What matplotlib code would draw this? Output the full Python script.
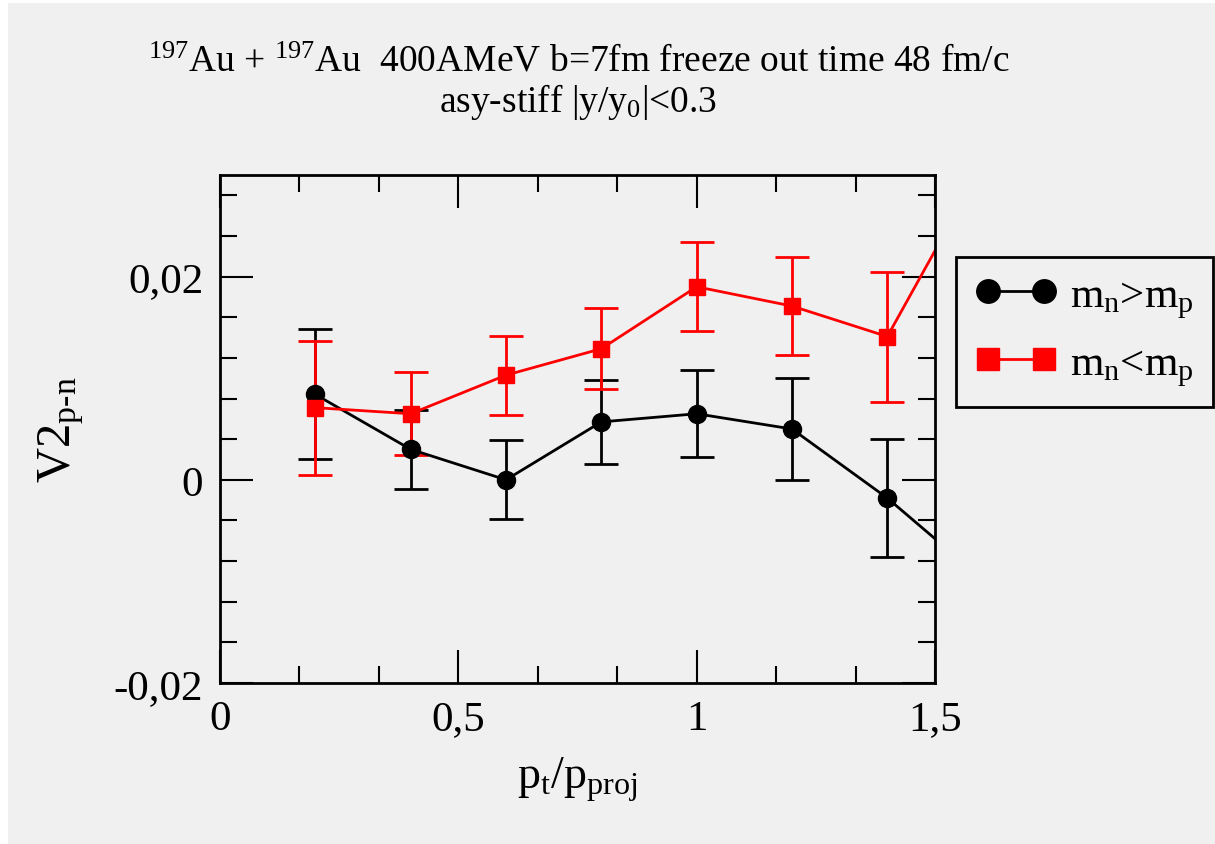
import numpy as np
import matplotlib
matplotlib.use("Agg")
import matplotlib.pyplot as plt
from matplotlib.patches import Rectangle
from matplotlib.ticker import MultipleLocator, FuncFormatter

plt.rcParams['font.family'] = ['Liberation Serif', 'DejaVu Serif']
plt.rcParams['mathtext.fontset'] = 'custom'
plt.rcParams['mathtext.rm'] = 'Liberation Serif'
plt.rcParams['mathtext.it'] = 'Liberation Serif'
plt.rcParams['mathtext.bf'] = 'Liberation Serif:bold'

# p_t / p_proj bins
pt = [0.2, 0.4, 0.6, 0.8, 1.0, 1.2, 1.4, 1.6]

# m_n > m_p
v2_stiff_a = [0.0084, 0.0030, 0.0000, 0.0057, 0.0065, 0.0050, -0.0018, -0.0098]
err_a = [0.0064, 0.0039, 0.0039, 0.0041, 0.0043, 0.0050, 0.0058, 0.0060]

# m_n < m_p
v2_stiff_b = [0.0071, 0.0065, 0.0103, 0.0129, 0.0190, 0.0171, 0.0141, 0.0310]
err_b = [0.0066, 0.0041, 0.0039, 0.0040, 0.0044, 0.0048, 0.0064, 0.0060]

labels = [r'm$_\mathrm{n}$>m$_\mathrm{p}$', r'm$_\mathrm{n}$<m$_\mathrm{p}$']

bg = '#f0f0f0'
W, H = 1215, 845
fig = plt.figure(figsize=(W / 100, H / 100), dpi=100, facecolor='white')
# gray canvas with thin white strip on the left/top like the original export
fig.patches.append(Rectangle((8 / W, 0), 1 - 8 / W, 1 - 4 / H,
                             transform=fig.transFigure, facecolor=bg,
                             edgecolor='none', zorder=-10))

ax = fig.add_axes([220 / W, 1 - 684 / H, (935 - 220) / W, (684 - 176) / H])
ax.set_facecolor(bg)

eb_a = ax.errorbar(pt, v2_stiff_a, yerr=err_a, color='black', marker='o',
                   markersize=13, linewidth=2, elinewidth=2, capsize=12,
                   capthick=2)
eb_b = ax.errorbar(pt, v2_stiff_b, yerr=err_b, color='#ff0000', marker='s',
                   markersize=12, linewidth=2, elinewidth=2, capsize=12,
                   capthick=2)

ax.set_xlim(0, 1.5)
ax.set_ylim(-0.02, 0.03)

ax.xaxis.set_major_locator(MultipleLocator(0.5))
ax.xaxis.set_minor_locator(MultipleLocator(0.5 / 3))
ax.yaxis.set_major_locator(MultipleLocator(0.02))
ax.yaxis.set_minor_locator(MultipleLocator(0.004))


def comma_fmt(v, pos):
    if abs(v) < 1e-12:
        return '0'
    return ('%g' % v).replace('.', ',')


ax.xaxis.set_major_formatter(FuncFormatter(comma_fmt))
ax.yaxis.set_major_formatter(FuncFormatter(comma_fmt))

ax.tick_params(which='both', direction='in', top=True, right=True,
               width=1.5, labelsize=31, color='black')
ax.tick_params(which='major', length=24)
ax.tick_params(which='minor', length=12)
ax.tick_params(axis='x', pad=12)
ax.tick_params(axis='y', pad=12)
for sp in ax.spines.values():
    sp.set_linewidth(2)

ax.set_xlabel(r'p$_\mathrm{t}$/p$_\mathrm{proj}$', fontsize=33, labelpad=12)
ax.set_ylabel(r'V2$_\mathrm{p\text{-}n}$', fontsize=35, labelpad=20)

fig.text(0.476, 1 - 62 / H,
         r'$^{197}$Au + $^{197}$Au  400AMeV b=7fm freeze out time 48 fm/c',
         ha='center', va='center', fontsize=27)
fig.text(0.476, 1 - 102 / H, r'asy-stiff |y/y$_\mathrm{0}$|<0.3',
         ha='center', va='center', fontsize=27)

# legend shows only the line+marker, not the error bars
leg = ax.legend([eb_a[0], eb_b[0]], labels,
                loc='upper left', bbox_to_anchor=(956 / W, 1 - 258 / H),
                bbox_transform=fig.transFigure, fontsize=31, numpoints=2,
                markerscale=1.3, handlelength=1.9, handletextpad=0.3,
                borderpad=0.45, labelspacing=0.55, fancybox=False,
                frameon=True, borderaxespad=0)
frame = leg.get_frame()
frame.set_edgecolor('black')
frame.set_linewidth(2)
frame.set_facecolor(bg)
frame.set_alpha(1)

fig.savefig('out.png', dpi=100, facecolor=fig.get_facecolor())
